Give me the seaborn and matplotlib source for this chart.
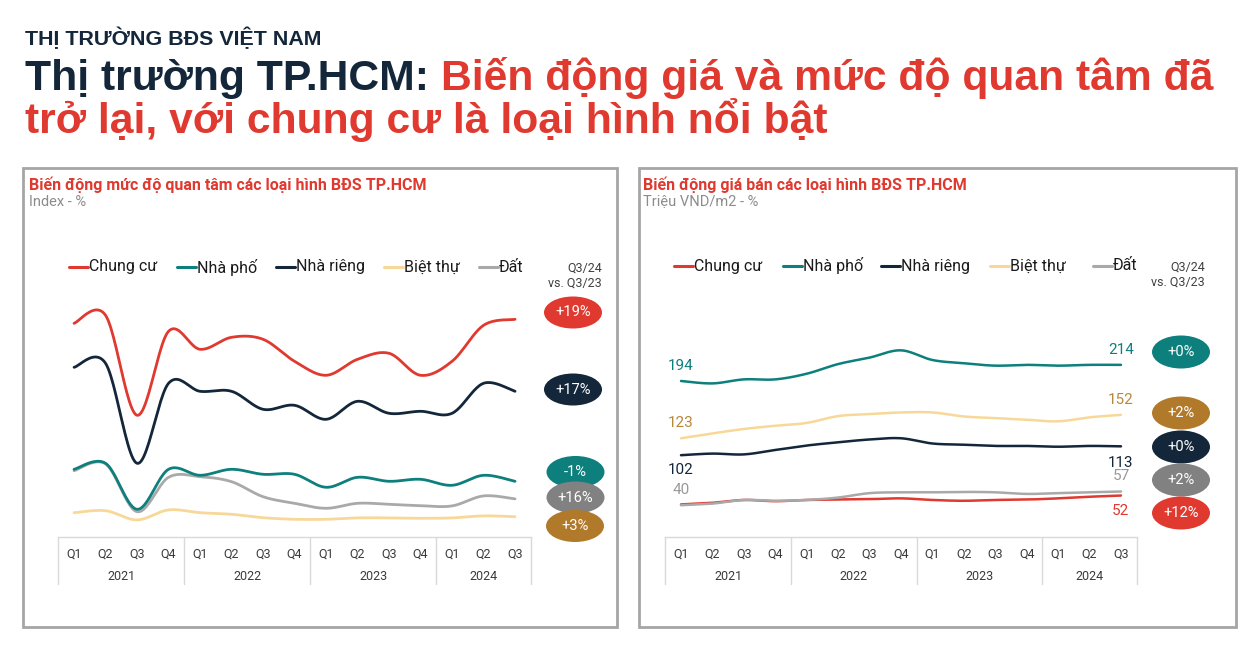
import numpy as np
import pandas as pd
import matplotlib
matplotlib.use("Agg")
import matplotlib.pyplot as plt
import seaborn as sns
from matplotlib.patches import Rectangle, Ellipse
from matplotlib.lines import Line2D
import matplotlib.transforms as mtransforms

# ---------------- data ----------------
quarters = ["Q1", "Q2", "Q3", "Q4", "Q1", "Q2", "Q3", "Q4", "Q1", "Q2", "Q3", "Q4", "Q1", "Q2", "Q3"]
years = ["2021", "2022", "2023", "2024"]
series_names = ["Chung cư", "Nhà phố", "Nhà riêng", "Biệt thự", "Đất"]

# Interest index (left chart)
interest_chung_cu = [100, 104, 54, 96, 87, 93, 92, 81, 74, 82, 85, 74, 81, 99, 102]
interest_nha_pho = [27, 30, 7, 27, 24, 27, 24.5, 24.5, 18, 23, 21, 22, 19, 24, 21]
interest_nha_rieng = [78, 80, 30, 70, 66, 66, 57, 59, 52, 61, 55, 56, 55, 70, 66]
interest_biet_thu = [5.3, 6.3, 1.7, 6.7, 5.3, 4.5, 2.8, 2, 2, 2.7, 2.7, 2.5, 2.7, 3.7, 3.3]
interest_dat = [26.3, 29.7, 5.8, 23, 23.3, 20.8, 13.3, 10, 7.5, 10, 9.5, 8.8, 8.7, 13.7, 12.2]
interest_change = ["+19%", "-1%", "+17%", "+3%", "+16%"]

# Price, million VND/m2 (right chart)
price_chung_cu = [41, 43, 46.5, 45, 46.5, 47, 47.5, 48.5, 46.5, 45.5, 46.5, 47, 48.5, 50.5, 52]
price_nha_pho = [194, 191, 196, 196, 203, 215, 223, 232, 220, 216, 213, 214, 213, 214, 214]
price_nha_rieng = [102, 104, 103, 108.5, 114, 118, 121.5, 123, 116.5, 115, 113.5, 113.5, 112.5, 113.5, 113]
price_biet_thu = [123, 129, 134.5, 138.5, 142, 150.5, 153, 155, 155, 150, 148, 146, 144, 149, 152]
price_dat = [40, 42, 46.5, 45.5, 46.5, 49.5, 55, 56, 56, 56.5, 56, 54, 55, 56, 57]
price_change = ["+12%", "+0%", "+0%", "+2%", "+2%"]

# ---------------- style ----------------
RED = "#e0392f"
TEAL = "#0d7f7c"
NAVY = "#13263a"
BEIGE = "#f8d898"
LGRAY = "#a9a9a9"
GOLD = "#b07a2a"
BGRAY = "#818181"
line_colors = {"Chung cư": RED, "Nhà phố": TEAL, "Nhà riêng": NAVY, "Biệt thự": BEIGE, "Đất": LGRAY}
badge_colors = {"Chung cư": RED, "Nhà phố": TEAL, "Nhà riêng": NAVY, "Biệt thự": GOLD, "Đất": BGRAY}
label_colors = {"Chung cư": RED, "Nhà phố": TEAL, "Nhà riêng": NAVY, "Biệt thự": "#b8873a", "Đất": "#9a9a9a"}

sns.set_theme(style="white")
plt.rcParams["font.family"] = ["Roboto", "DejaVu Sans"]

W, H = 1259, 656
fig = plt.figure(figsize=(W / 100, H / 100), dpi=100)
fig.patch.set_facecolor("white")

bg = fig.add_axes([0, 0, 1, 1])
bg.set_xlim(0, W)
bg.set_ylim(H, 0)
bg.axis("off")


def smooth(vals, n=24):
    """Excel-style smoothed line (Catmull-Rom Bezier) through the data points."""
    y = np.asarray(vals, float)
    x = np.arange(len(y), dtype=float)
    xp = np.concatenate([[x[0]], x, [x[-1]]])
    yp = np.concatenate([[y[0]], y, [y[-1]]])
    t = np.linspace(0, 1, n, endpoint=False)[:, None]
    pts = []
    for i in range(len(y) - 1):
        p0 = np.array([x[i], y[i]])
        p3 = np.array([x[i + 1], y[i + 1]])
        pm = np.array([xp[i], yp[i]])
        pn = np.array([xp[i + 3], yp[i + 3]])
        c1 = p0 + (p3 - pm) / 6
        c2 = p3 - (pn - p0) / 6
        b = (1 - t) ** 3 * p0 + 3 * (1 - t) ** 2 * t * c1 + 3 * (1 - t) * t ** 2 * c2 + t ** 3 * p3
        pts.append(b)
    pts.append(np.array([[x[-1], y[-1]]]))
    pts = np.vstack(pts)
    return pts[:, 0], pts[:, 1]


def px_axes(x0, x1, y_top, y_bot):
    return fig.add_axes([x0 / W, 1 - y_bot / H, (x1 - x0) / W, (y_bot - y_top) / H])


def draw_chart(ax, data, order, ylim, lw):
    frames = []
    for name in order:
        xs, ys = smooth(data[name])
        frames.append(pd.DataFrame({"x": xs, "y": ys, "series": name}))
    df = pd.concat(frames, ignore_index=True)
    sns.lineplot(data=df, x="x", y="y", hue="series", hue_order=order, palette=line_colors,
                 sort=False, estimator=None, legend=False, linewidth=lw, ax=ax)
    ax.set_xlim(-0.5, 14.5)
    ax.set_ylim(*ylim)
    ax.set_xlabel("")
    ax.set_ylabel("")
    ax.set_yticks([])
    ax.set_xticks(range(len(quarters)))
    ax.set_xticklabels(quarters, fontsize=9, color="#3a3a3a")
    ax.tick_params(axis="x", length=0, pad=7.5)
    for s in ["top", "left", "right"]:
        ax.spines[s].set_visible(False)
    ax.spines["bottom"].set_color("#d9d9d9")
    ax.spines["bottom"].set_linewidth(1)
    ax.patch.set_alpha(0)
    tr = mtransforms.blended_transform_factory(ax.transData, ax.transAxes)
    for xv in [-0.5, 3.5, 7.5, 11.5, 14.5]:
        ax.add_line(Line2D([xv, xv], [0, -0.19], transform=tr, color="#d9d9d9", lw=1, clip_on=False))
    centers = [1.5, 5.5, 9.5, 13]
    for c, yr in zip(centers, years):
        ax.text(c, -0.161, yr, transform=tr, ha="center", va="center", fontsize=9, color="#3a3a3a")


# ---------------- header ----------------
bg.text(25, 45, "THỊ TRƯỜNG BĐS VIỆT NAM", fontsize=15.4, fontweight="bold", color=NAVY,
        va="baseline", ha="left", family=["Liberation Sans", "DejaVu Sans"])
t1 = bg.text(25, 90, "Thị trường TP.HCM: ", fontsize=30.7, fontweight="bold", color=NAVY,
             va="baseline", ha="left", family=["Liberation Sans", "DejaVu Sans"])
bg.annotate("Biến động giá và mức độ quan tâm đã", xy=(1, 0), xycoords=t1, va="bottom", ha="left",
            fontsize=30.7, fontweight="bold", color=RED, family=["Liberation Sans", "DejaVu Sans"])
bg.text(25, 133, "trở lại, với chung cư là loại hình nổi bật", fontsize=30.7, fontweight="bold", color=RED,
        va="baseline", ha="left", family=["Liberation Sans", "DejaVu Sans"])

# ---------------- panels ----------------
for (x0, x1) in [(23, 617), (639, 1236)]:
    bg.add_patch(Rectangle((x0, 168), x1 - x0, 459, fill=False, ec="#a6a6a6", lw=2))

panel_titles = ["Biến động mức độ quan tâm các loại hình BĐS TP.HCM", "Biến động giá bán các loại hình BĐS TP.HCM"]
panel_units = ["Index - %", "Triệu VND/m2 - %"]
for px, ttl, unit in zip([29, 643], panel_titles, panel_units):
    bg.text(px, 185, ttl, fontsize=11.5, fontweight="bold", color=RED, va="center", ha="left")
    bg.text(px, 202, unit, fontsize=10.5, color="#8c8c8c", va="center", ha="left")

# legends
legend_left_x = [69, 177, 276, 384, 479]
legend_right_x = [674, 783, 881, 990, 1093]
for lxs, ly, qx in [(legend_left_x, 267, 602), (legend_right_x, 266, 1205)]:
    for name, lx in zip(series_names, lxs):
        bg.add_line(Line2D([lx, lx + 19], [ly, ly], color=line_colors[name], lw=2.2))
        bg.text(lx + 20, ly, name, fontsize=11.5, color="#1a1a1a", va="center", ha="left")
    bg.text(qx, ly + 1, "Q3/24", fontsize=9, color="#404040", va="center", ha="right")
    bg.text(qx, ly + 16, "vs. Q3/23", fontsize=9, color="#404040", va="center", ha="right")

# ---------------- left chart ----------------
axL = px_axes(58.3, 530.8, 290, 537)
interest = {"Chung cư": interest_chung_cu, "Nhà phố": interest_nha_pho, "Nhà riêng": interest_nha_rieng,
            "Biệt thự": interest_biet_thu, "Đất": interest_dat}
draw_chart(axL, interest, ["Biệt thự", "Đất", "Nhà phố", "Nhà riêng", "Chung cư"], (-6.85, 116.65), 2.0)

# ---------------- right chart ----------------
axR = px_axes(665.3, 1136.7, 290, 537)
price = {"Chung cư": price_chung_cu, "Nhà phố": price_nha_pho, "Nhà riêng": price_nha_rieng,
         "Biệt thự": price_biet_thu, "Đất": price_dat}
draw_chart(axR, price, ["Chung cư", "Biệt thự", "Nhà riêng", "Nhà phố", "Đất"], (0.6, 306.8), 1.8)

# data labels at start and end of the price chart
label_offsets = {"Chung cư": (None, -11), "Nhà phố": (11, 11), "Nhà riêng": (-11, -12),
                 "Biệt thự": (11, 11), "Đất": (11, 11)}
for name in series_names:
    vals = price[name]
    off_start, off_end = label_offsets[name]
    if off_start is not None:
        axR.annotate(f"{vals[0]:.0f}", xy=(0, vals[0]), xytext=(0, off_start), textcoords="offset points",
                     ha="center", va="center", fontsize=11, color=label_colors[name])
    axR.annotate(f"{vals[-1]:.0f}", xy=(14, vals[-1]), xytext=(0, off_end), textcoords="offset points",
                 ha="center", va="center", fontsize=11, color=label_colors[name])

# ---------------- badges ----------------
left_badges = [("Chung cư", 573, 312.5), ("Nhà riêng", 573, 389.5), ("Nhà phố", 575.5, 472),
               ("Đất", 575.5, 497.5), ("Biệt thự", 575, 526)]
right_badges = [("Nhà phố", 1181, 352), ("Biệt thự", 1181, 413), ("Nhà riêng", 1181, 447),
                ("Đất", 1181, 480), ("Chung cư", 1181, 513)]
changes_left = dict(zip(series_names, interest_change))
changes_right = dict(zip(series_names, price_change))
for badges, changes, bh in [(left_badges, changes_left, 32), (right_badges, changes_right, 33)]:
    for name, cx, cy in badges:
        bg.add_patch(Ellipse((cx, cy), 58, bh, color=badge_colors[name], lw=0))
        bg.text(cx, cy, changes[name], fontsize=10.5, color="white", ha="center", va="center")

fig.savefig("out.png", dpi=100, facecolor="white")
